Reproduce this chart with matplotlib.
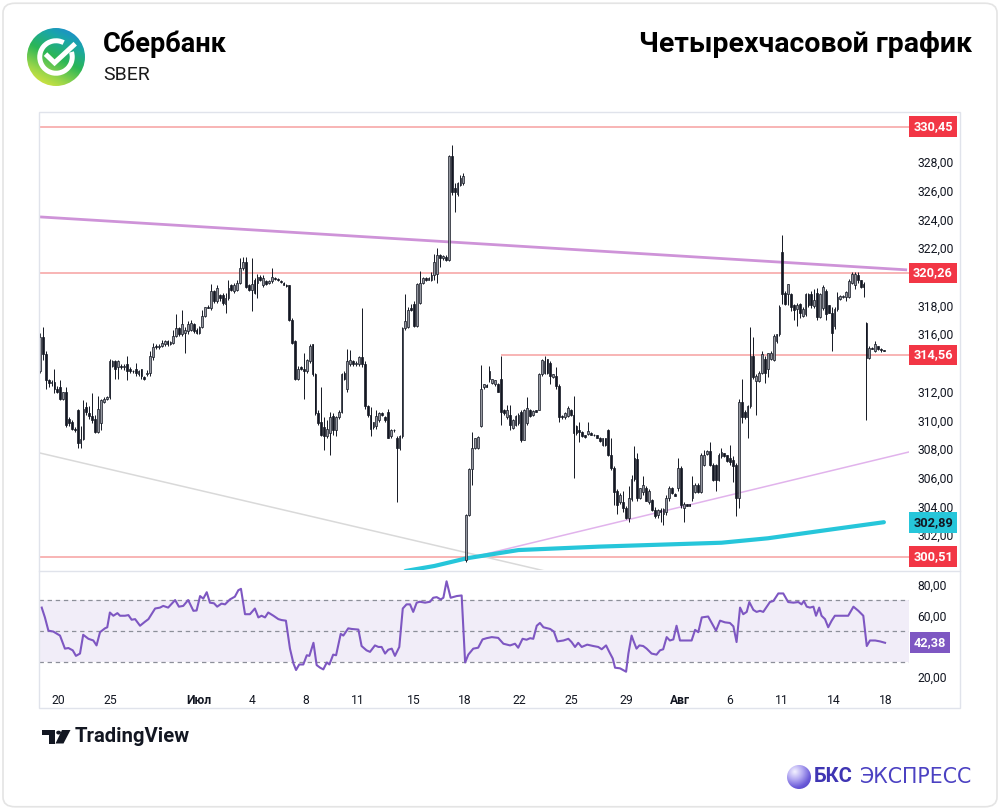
import numpy as np
import matplotlib.pyplot as plt
from matplotlib.patches import Rectangle, Circle, Polygon, Arc, FancyBboxPatch
from matplotlib.colors import LinearSegmentedColormap
from matplotlib.ticker import FuncFormatter
from matplotlib.transforms import blended_transform_factory

plt.rcParams['font.family'] = ['Roboto', 'DejaVu Sans']

# 4h candles, (open, high, low, close)
bars_jun = [
    (313.4, 316.1, 313.3, 315.8), (315.8, 316.5, 314.2, 314.6), (314.6, 314.8, 312.2, 312.8),
    (312.8, 312.9, 312.3, 312.6), (312.6, 312.8, 312.4, 312.7), (312.7, 313.6, 311.9, 312.2),
    (312.2, 312.4, 311.9, 312.0), (312.3, 312.8, 311.4, 311.5), (311.5, 312.0, 311.4, 312.0),
    (312.0, 312.3, 309.5, 309.7), (310.1, 310.2, 309.6, 309.8), (309.9, 310.0, 309.3, 309.4),
    (309.4, 309.5, 309.2, 309.3), (310.7, 310.8, 308.1, 308.4), (308.4, 309.6, 308.1, 308.7),
    (308.7, 311.4, 308.6, 310.8), (310.9, 311.3, 310.4, 310.6), (310.5, 311.0, 310.1, 310.3),
    (310.3, 311.9, 309.8, 310.0), (310.1, 310.4, 309.1, 309.2), (309.2, 311.7, 309.1, 310.8),
    (309.8, 311.5, 309.3, 311.4), (311.3, 311.6, 311.2, 311.5), (311.5, 311.7, 311.4, 311.6),
    (311.6, 314.3, 311.5, 314.1), (313.8, 314.2, 313.7, 314.1), (314.1, 314.2, 312.9, 313.6),
    (313.7, 314.2, 312.9, 314.1), (313.8, 313.9, 313.6, 313.7), (313.7, 313.9, 313.5, 313.8),
    (313.9, 314.5, 312.8, 313.4), (313.6, 313.7, 313.3, 313.4), (313.4, 313.5, 313.3, 313.45),
    (313.6, 314.0, 313.1, 313.3), (313.2, 313.5, 313.1, 313.4), (313.6, 313.6, 312.9, 313.1),
    (313.0, 313.1, 312.8, 312.9), (313.2, 313.5, 313.1, 313.3), (313.3, 314.8, 313.1, 314.5),
    (314.4, 315.4, 314.2, 315.1), (315.2, 315.3, 315.0, 315.1), (315.1, 315.3, 315.0, 315.2),
    (315.2, 315.6, 315.1, 315.4), (315.3, 315.6, 315.2, 315.5), (315.5, 315.6, 315.2, 315.3),
    (315.3, 315.5, 315.25, 315.45), (315.4, 316.3, 315.3, 315.9), (315.9, 317.4, 315.8, 316.4),
    (316.4, 316.5, 315.9, 316.0), (316.0, 317.7, 315.9, 316.7),
]
bars_jul_a = [
    (316.1, 316.5, 314.7, 316.3), (316.2, 316.9, 316.0, 316.7), (316.3, 317.0, 316.2, 316.8),
    (316.7, 316.8, 316.1, 316.2), (316.3, 316.4, 316.0, 316.1), (316.1, 316.6, 316.0, 316.5),
    (316.5, 317.7, 316.4, 317.3), (317.3, 317.9, 317.2, 317.9), (317.9, 318.0, 317.8, 317.8),
    (317.8, 319.5, 317.7, 319.0), (319.0, 319.1, 318.2, 318.3), (318.3, 319.4, 318.2, 319.2),
    (318.7, 318.8, 318.3, 318.5), (318.7, 318.9, 318.0, 318.2), (318.1, 318.9, 317.5, 318.5),
    (318.5, 319.8, 318.4, 319.2), (319.4, 319.5, 319.0, 319.1), (319.0, 319.6, 318.9, 319.4),
    (319.1, 319.8, 319.0, 319.6), (319.6, 321.3, 319.5, 320.6), (320.6, 321.4, 320.5, 321.0),
    (321.0, 321.4, 319.2, 319.3), (319.4, 319.5, 319.0, 319.1), (319.1, 321.3, 317.6, 319.5),
    (319.8, 319.9, 318.8, 318.9), (319.6, 320.2, 318.5, 320.0), (320.0, 320.1, 319.7, 319.8),
    (319.4, 320.1, 319.3, 319.9), (319.7, 319.8, 319.4, 319.5), (319.6, 319.8, 319.5, 319.7),
    (319.7, 320.6, 319.6, 320.0), (319.9, 320.0, 319.8, 319.85), (319.85, 319.9, 319.7, 319.75),
    (319.7, 319.75, 319.6, 319.65), (319.6, 319.65, 319.4, 319.45), (319.45, 319.5, 319.3, 319.35),
    (319.4, 319.45, 316.9, 317.0), (317.0, 317.1, 315.3, 315.4), (315.5, 315.6, 312.8, 312.9),
    (312.9, 313.8, 312.8, 313.6), (313.7, 313.8, 313.5, 313.6), (313.6, 314.7, 311.5, 313.4),
    (313.4, 314.3, 313.3, 314.2), (314.1, 315.3, 314.0, 315.2), (315.3, 315.35, 313.1, 313.2),
    (313.2, 313.3, 310.4, 310.5), (310.5, 310.7, 309.7, 309.8), (309.9, 312.3, 308.9, 309.0),
    (309.5, 310.2, 307.9, 308.9), (308.9, 310.0, 308.8, 309.4),
]
bars_jul_b = [
    (309.1, 310.6, 307.6, 310.2), (310.3, 310.5, 309.0, 309.3), (309.3, 310.3, 308.9, 310.2),
    (310.2, 310.7, 310.1, 310.6), (310.6, 313.3, 310.5, 313.2), (313.3, 313.4, 312.8, 312.9),
    (312.2, 315.0, 312.0, 314.1), (313.9, 314.9, 313.8, 314.2), (314.1, 314.2, 313.8, 313.9),
    (313.9, 314.1, 313.8, 314.0), (313.9, 314.5, 313.8, 314.4), (314.4, 317.8, 313.7, 313.9),
    (313.9, 314.1, 310.8, 311.0), (311.0, 311.1, 310.2, 310.4), (310.4, 310.9, 308.9, 309.4),
    (309.5, 309.9, 309.4, 309.9), (309.6, 310.7, 309.4, 310.3), (310.0, 310.6, 309.9, 310.5),
    (310.5, 310.6, 310.3, 310.4), (310.2, 310.3, 309.9, 310.0), (310.6, 310.8, 308.8, 308.8),
    (308.9, 309.4, 308.8, 309.3), (309.3, 309.4, 309.2, 309.35), (308.8, 308.9, 304.3, 308.1),
    (308.1, 309.0, 307.9, 308.9), (308.9, 316.5, 308.8, 316.4), (316.4, 318.8, 316.3, 316.9),
    (316.5, 317.9, 316.4, 317.7), (317.8, 318.1, 317.6, 317.7), (318.1, 318.3, 316.5, 316.6),
    (316.6, 319.6, 316.5, 319.5), (318.2, 320.4, 318.1, 319.6), (319.6, 320.0, 319.5, 319.9),
    (319.9, 320.0, 319.7, 319.8), (319.8, 319.95, 319.75, 319.9), (319.8, 320.3, 319.7, 320.1),
    (320.1, 321.6, 319.8, 321.0), (320.2, 322.0, 319.6, 321.5), (321.5, 321.6, 320.7, 321.3),
    (321.3, 321.5, 321.2, 321.45), (321.4, 321.5, 321.1, 321.2), (321.2, 328.5, 321.1, 328.4),
    (328.4, 329.2, 325.7, 325.9), (326.2, 326.5, 324.5, 325.9), (325.8, 326.6, 325.6, 326.5),
    (326.4, 327.1, 326.3, 326.9), (326.5, 327.2, 326.4, 327.0),
]
bars_jul_aug = [
    (300.3, 303.5, 300.1, 303.4), (303.4, 306.7, 303.3, 306.6), (306.6, 309.2, 305.5, 308.1),
    (308.1, 308.8, 308.0, 308.75), (308.1, 308.9, 308.0, 308.85), (309.6, 313.85, 309.5, 312.15),
    (312.3, 312.5, 312.2, 312.5), (312.45, 312.5, 312.3, 312.35), (313.4, 313.8, 312.7, 312.85),
    (312.6, 312.9, 312.5, 312.85), (312.5, 312.8, 312.4, 312.8), (312.55, 312.6, 312.0, 312.0),
    (312.9, 314.5, 309.7, 310.6), (310.75, 310.8, 310.4, 310.5), (310.2, 311.1, 310.1, 310.75),
    (310.4, 311.1, 309.35, 309.7), (309.45, 310.1, 309.4, 310.05), (309.7, 310.4, 309.6, 310.3),
    (309.8, 310.5, 309.7, 310.35), (310.6, 310.75, 308.5, 308.65), (308.65, 310.8, 308.6, 310.75),
    (309.8, 311.6, 309.7, 310.85), (310.75, 310.8, 310.2, 310.3), (310.35, 310.7, 310.3, 310.65),
    (310.7, 310.75, 310.55, 310.6), (310.75, 313.3, 310.7, 313.2), (313.2, 314.3, 313.1, 314.2),
    (313.3, 314.5, 313.2, 314.1), (314.25, 314.3, 313.2, 313.3), (314.0, 314.1, 312.5, 313.1),
    (313.0, 313.25, 312.95, 313.2), (313.1, 313.7, 312.2, 312.4), (312.4, 312.5, 309.9, 310.2),
    (310.3, 310.35, 310.1, 310.2), (310.2, 310.6, 310.1, 310.5), (310.3, 311.0, 310.2, 310.85),
    (310.75, 310.8, 310.3, 310.35), (310.35, 311.7, 305.95, 309.1), (309.6, 309.7, 309.0, 309.1),
    (309.35, 309.9, 308.5, 309.2), (309.2, 309.25, 308.85, 308.9), (308.95, 309.0, 308.8, 308.85),
    (309.05, 309.9, 309.0, 309.25), (309.1, 309.15, 308.95, 309.0), (309.0, 309.05, 308.9, 308.95),
    (308.95, 309.0, 308.75, 308.8), (308.8, 308.85, 308.5, 308.55), (308.25, 308.8, 308.2, 308.75),
    (308.75, 308.8, 308.2, 308.25), (309.35, 309.4, 307.5, 307.6), (307.6, 308.75, 306.55, 306.65),
    (306.65, 306.8, 304.1, 305.0), (305.1, 305.2, 303.5, 304.1), (304.3, 304.9, 304.2, 304.8),
]
bars_aug_a = [
    (304.3, 305.1, 303.6, 303.9), (303.9, 304.0, 303.1, 303.2), (303.2, 305.4, 302.9, 304.6),
    (304.5, 306.2, 304.4, 305.9), (307.4, 308.2, 305.8, 305.9), (307.3, 307.7, 304.4, 304.6),
    (304.6, 305.3, 304.5, 305.3), (305.0, 306.1, 304.8, 305.5), (305.3, 305.4, 304.4, 304.4),
    (304.3, 305.2, 304.2, 305.1), (304.45, 304.5, 303.7, 303.75), (303.75, 303.98, 303.2, 303.3),
    (303.4, 303.8, 303.2, 303.75), (303.75, 303.86, 302.9, 303.6), (303.5, 303.86, 302.7, 303.8),
    (303.6, 304.8, 303.4, 304.6), (304.6, 305.4, 304.4, 305.3), (305.3, 305.35, 304.85, 304.9),
    (304.85, 304.9, 304.7, 304.75), (305.3, 307.4, 305.1, 306.7), (306.7, 306.8, 303.9, 304.1),
    (303.9, 304.3, 302.9, 304.2), (304.15, 304.2, 304.0, 304.05), (304.15, 304.2, 304.0, 304.05),
    (304.6, 306.1, 304.4, 305.5), (305.0, 305.6, 304.9, 305.5), (305.5, 305.6, 304.9, 305.0),
    (305.0, 307.7, 304.9, 307.6), (306.9, 307.95, 306.8, 307.6), (307.65, 307.9, 307.6, 307.88),
    (307.88, 308.5, 306.8, 306.9), (306.9, 307.0, 305.8, 305.85), (306.9, 306.95, 305.1, 305.85),
    (305.85, 307.7, 305.8, 307.6), (307.5, 308.1, 307.4, 307.8), (307.7, 307.75, 307.45, 307.5),
    (307.55, 307.6, 307.1, 307.15), (307.35, 308.3, 306.9, 307.1), (307.25, 307.5, 305.7, 306.8),
    (306.9, 307.0, 303.3, 304.6), (304.6, 311.45, 303.9, 311.3), (311.3, 312.85, 309.8, 310.2),
    (310.6, 310.7, 310.1, 310.2), (310.2, 311.1, 308.8, 311.0), (311.0, 316.5, 310.85, 314.5),
    (314.5, 315.8, 312.9, 313.0), (312.75, 313.2, 310.4, 313.1), (312.75, 313.4, 312.7, 313.3),
    (313.3, 314.8, 313.2, 314.6),
]
bars_aug_b = [
    (314.3, 314.5, 312.6, 313.3), (313.55, 314.7, 313.0, 314.7), (314.25, 314.8, 314.2, 314.7),
    (314.2, 316.0, 314.1, 315.9), (315.5, 316.0, 315.4, 316.0), (316.0, 318.0, 315.9, 317.9),
    (321.7, 322.9, 318.1, 318.8), (318.9, 319.0, 318.0, 318.1), (318.8, 319.5, 318.0, 319.5),
    (318.8, 318.9, 317.6, 317.9), (318.0, 318.1, 317.0, 317.65), (317.75, 318.2, 316.6, 318.0),
    (318.1, 318.2, 317.1, 317.5), (317.3, 317.9, 317.2, 317.75), (317.4, 318.9, 317.3, 318.8),
    (318.8, 318.9, 317.9, 318.0), (318.8, 319.0, 317.85, 318.0), (317.99, 319.15, 317.85, 318.35),
    (318.9, 319.2, 317.0, 317.2), (317.2, 318.9, 317.1, 318.8), (317.8, 319.4, 317.7, 319.3),
    (319.0, 319.15, 317.0, 317.4), (318.0, 318.05, 317.45, 317.5), (317.5, 317.9, 314.8, 316.1),
    (316.6, 317.87, 316.35, 317.75), (317.75, 318.92, 317.6, 318.57), (318.45, 318.75, 318.4, 318.69),
    (318.57, 318.75, 318.5, 318.69), (318.57, 319.04, 318.34, 318.92), (318.6, 319.85, 318.5, 319.7),
    (319.6, 320.32, 319.5, 320.2), (319.4, 320.32, 319.15, 320.2), (320.09, 320.32, 319.6, 319.74),
    (319.74, 319.8, 319.2, 319.27), (319.5, 319.62, 318.6, 319.27),
]
bars_aug_c = [
    (316.8, 316.82, 310.05, 314.37), (314.37, 315.19, 314.25, 315.07), (315.05, 315.1, 314.95, 315.0),
    (314.83, 315.53, 314.77, 315.3), (315.19, 315.2, 314.9, 314.95), (314.97, 315.07, 314.75, 314.9),
    (314.9, 314.92, 314.8, 314.86),
]

# horizontal levels and the bar each one starts from
levels = [330.45, 320.26, 314.56, 300.51]
level_from = [0, 0, 159, 0]

# trend lines: (bar, price) end points
trend_top = ([0, 299], [324.17, 320.48])
trend_up = ([147, 300], [300.36, 307.81])
trend_down = ([0, 175], [307.72, 299.46])

# moving average (cyan)
ma_bar = [126, 136, 147, 165, 193, 235, 251, 273, 291]
ma_val = [299.5, 299.85, 300.38, 300.96, 301.2, 301.47, 301.78, 302.4, 302.9]
ma_last = 302.89

# RSI
rsi_bar = [0.6, 1.7, 2.9, 4.6, 6.9, 8.6, 9.8, 11.3, 12.4, 13.8,
           14.9, 16.7, 18.4, 19.5, 20.7, 22.4, 23.2, 24.1, 25.3, 26.7,
           27.6, 29.3, 30.5, 31.6, 32.8, 34.5, 36.2, 37.4, 39.7, 41.4,
           42.5, 44.2, 46.6, 47.9, 49.4, 51.1, 52.9, 54.0, 55.2, 56.3,
           57.5, 58.6, 60.0, 61.1, 62.6, 63.8, 65.5, 67.2, 68.4, 69.3,
           70.7, 72.4, 74.1, 75.3, 76.4, 77.6, 78.7, 80.5, 82.2, 83.3,
           84.8, 86.2, 87.4, 88.3, 89.4, 90.8, 92.0, 92.9, 94.3, 95.4,
           96.6, 97.7, 98.9, 99.8, 101.1, 102.1, 103.7, 104.6, 106.3, 107.5,
           109.8, 110.9, 112.6, 113.8, 115.5, 116.7, 117.8, 119.0, 120.1, 121.3,
           122.4, 123.9, 125.1, 126.4, 127.6, 128.7, 129.9, 131.0, 132.8, 134.5,
           135.6, 136.8, 138.2, 139.1, 140.2, 141.6, 143.7, 145.4, 146.6, 147.7,
           149.4, 151.1, 152.6, 154.0, 155.8, 158.0, 159.8, 162.1, 163.8, 164.9,
           166.4, 167.8, 169.0, 170.1, 171.3, 172.4, 173.6, 175.9, 177.2, 178.4,
           180.5, 182.2, 183.3, 184.5, 185.6, 186.8, 188.7, 190.8, 192.5, 193.7,
           195.2, 196.3, 197.5, 198.3, 200.0, 202.1, 202.9, 204.0, 204.6, 205.7,
           206.7, 208.0, 209.2, 210.9, 212.6, 213.8, 214.9, 216.1, 217.2, 218.4,
           219.5, 220.7, 223.0, 224.7, 225.9, 227.0, 228.2, 230.4, 233.1, 234.5,
           236.2, 237.9, 239.1, 240.2, 241.4, 242.5, 243.7, 244.6, 246.0, 247.1,
           248.3, 249.4, 250.6, 251.7, 252.9, 254.6, 256.3, 258.0, 259.8, 261.5,
           262.6, 263.4, 264.4, 265.5, 266.7, 267.6, 268.7, 269.5, 270.7, 271.8,
           273.0, 274.1, 275.9, 277.6, 278.7, 280.5, 282.2, 283.9, 285.1, 286.2,
           288.0, 289.7, 291.4]
rsi_val = [65.3, 58.9, 50.3, 49.7, 47.1, 38.6, 39.0, 37.5, 33.9, 35.4,
           47.6, 45.0, 43.9, 40.7, 49.3, 51.8, 52.5, 62.1, 60.0, 61.7,
           60.0, 60.0, 60.4, 57.4, 57.8, 53.5, 56.1, 57.8, 64.7, 65.3,
           66.4, 65.3, 70.2, 65.9, 66.4, 70.2, 63.2, 63.4, 72.8, 71.1,
           75.3, 68.5, 68.1, 65.9, 67.9, 67.4, 70.6, 72.4, 76.6, 77.5,
           61.0, 61.0, 64.7, 58.9, 60.0, 58.9, 62.1, 60.0, 57.8, 57.2,
           56.8, 38.6, 29.0, 24.7, 28.3, 28.3, 34.3, 33.9, 42.4, 27.9,
           26.2, 25.1, 29.6, 28.3, 34.7, 34.3, 48.2, 47.1, 51.8, 51.4,
           51.0, 40.3, 37.5, 36.5, 40.7, 39.7, 39.7, 35.4, 37.9, 38.6,
           33.9, 39.7, 64.7, 67.4, 67.4, 62.5, 68.5, 69.1, 68.5, 69.1,
           71.7, 72.1, 70.6, 71.7, 82.4, 71.7, 72.8, 73.2, 29.6, 34.7,
           38.6, 39.2, 44.6, 45.4, 46.1, 45.6, 41.8, 40.7, 41.8, 39.2,
           45.0, 44.4, 45.4, 45.0, 53.5, 55.3, 52.5, 51.4, 49.7, 43.3,
           43.9, 45.0, 42.9, 39.7, 42.4, 39.7, 41.2, 40.3, 39.7, 38.2,
           40.7, 36.5, 32.2, 26.2, 25.8, 23.6, 35.4, 47.1, 43.9, 38.6,
           40.7, 40.3, 38.6, 35.4, 34.7, 37.5, 38.2, 46.1, 43.9, 44.6,
           53.5, 43.9, 43.9, 43.9, 50.8, 49.3, 58.9, 59.5, 50.3, 56.8,
           55.7, 55.3, 53.1, 42.9, 65.3, 61.0, 62.5, 68.9, 63.8, 62.5,
           63.2, 62.5, 65.9, 68.9, 69.6, 74.5, 74.5, 68.9, 68.5, 68.9,
           67.4, 69.6, 65.9, 65.3, 65.9, 60.0, 65.3, 60.0, 57.8, 52.5,
           56.8, 60.0, 60.0, 60.0, 60.0, 65.9, 63.2, 60.0, 40.3, 43.9,
           43.9, 43.3, 42.4]
rsi_last = 42.38

# date axis
date_pos = [6.2, 24.1, 54.8, 73.1, 91.7, 109.7, 129.0, 146.6, 165.2, 183.1,
            202.1, 220.7, 237.9, 255.9, 273.8, 291.7]
date_lbl = ['20', '25', 'Июл', '4', '8', '11', '15', '18', '22', '25',
            '29', 'Авг', '6', '11', '14', '18']

W, H = 1000, 810
fig = plt.figure(figsize=(W / 100, H / 100), dpi=100)


def box(x0, y0, x1, y1):
    # pixel box (origin top-left) -> figure fraction rect
    return [x0 / W, 1 - y1 / H, (x1 - x0) / W, (y1 - y0) / H]


def pt(x, y):
    return (x / W, 1 - y / H)


# ---- price pane ----
ax = fig.add_axes(box(39, 113, 909, 570))
o, hi, lo, c = np.array(bars_jun + bars_jul_a + bars_jul_b + bars_jul_aug
                        + bars_aug_a + bars_aug_b + bars_aug_c).T
idx = np.arange(len(o))
up = c >= o
body_lo = np.minimum(o, c)
body_h = np.maximum(np.abs(c - o), 0.05)

ax.vlines(idx, lo, hi, color='#131722', lw=0.7, zorder=3)
ax.bar(idx[up], body_h[up], bottom=body_lo[up], width=0.62, color='#9598a1',
       edgecolor='#131722', lw=0.5, zorder=4)
ax.bar(idx[~up], body_h[~up], bottom=body_lo[~up], width=0.62, color='#131722',
       edgecolor='#131722', lw=0.5, zorder=4)

xmin, xmax = -0.34, 299.66
for lv, start in zip(levels, level_from):
    ax.hlines(lv, max(start, xmin), xmax, color='#f7a1a1', lw=1.1, zorder=2)

ax.plot(*trend_top, color='#ce93d8', lw=2, zorder=2, solid_capstyle='butt')
ax.plot(*trend_up, color='#e1b3ec', lw=1.1, zorder=2)
ax.plot(*trend_down, color='#d9d9d9', lw=1.1, zorder=2)
ax.plot(ma_bar, ma_val, color='#26c6da', lw=3, zorder=2.5, solid_capstyle='round')

ax.set_xlim(xmin, xmax)
ax.set_ylim(299.57, 331.41)
ax.set_xticks([])
ax.yaxis.tick_right()
ax.set_yticks([302, 304, 306, 308, 310, 312, 316, 318, 322, 324, 326, 328])
ax.yaxis.set_major_formatter(FuncFormatter(lambda v, p: f'{v:.2f}'.replace('.', ',')))
ax.tick_params(axis='y', length=0, pad=6, labelsize=8.7, labelcolor='#131722')
for s in ax.spines.values():
    s.set_visible(False)


def tag(axis, y, text, fc, tc, xc=1.0276):
    axis.text(xc, y, text, transform=blended_transform_factory(axis.transAxes, axis.transData),
              ha='center', va='center', fontsize=9.2, fontweight='bold', color=tc,
              bbox=dict(boxstyle='square,pad=0.3', fc=fc, ec='none'), clip_on=False, zorder=10)


for lv in levels:
    tag(ax, lv, f'{lv:.2f}'.replace('.', ','), '#f23645', 'white')
tag(ax, ma_last, f'{ma_last:.2f}'.replace('.', ','), '#26c6da', '#131722')

# ---- RSI pane ----
ax2 = fig.add_axes(box(39, 571, 909, 688))
ax2.axhspan(30, 70, color='#7e57c2', alpha=0.1, lw=0)
for lv in (70, 50, 30):
    ax2.axhline(lv, color='#8c8f99', lw=0.9, dashes=(3.5, 3))
ax2.plot(rsi_bar, rsi_val, color='#7e57c2', lw=1.5)
ax2.set_xlim(xmin, xmax)
ax2.set_ylim(13.0, 89.1)
ax2.yaxis.tick_right()
ax2.set_yticks([20, 60, 80])
ax2.yaxis.set_major_formatter(FuncFormatter(lambda v, p: f'{v:.2f}'.replace('.', ',')))
ax2.tick_params(axis='y', length=0, pad=6, labelsize=8.7, labelcolor='#131722')
ax2.set_xticks(date_pos)
ax2.set_xticklabels(date_lbl)
ax2.tick_params(axis='x', length=0, pad=4, labelsize=8.7, labelcolor='#131722')
for t in ax2.get_xticklabels():
    if not t.get_text().isdigit():
        t.set_fontweight('bold')
for s in ax2.spines.values():
    s.set_visible(False)
tag(ax2, rsi_last, f'{rsi_last:.2f}'.replace('.', ','), '#7e57c2', 'white', xc=1.0241)

# chart frame and pane separator
fig.add_artist(Rectangle(pt(39, 708), (960 - 39) / W, (708 - 112) / H, transform=fig.transFigure,
                         fill=False, ec='#e0e3eb', lw=1))
fig.add_artist(plt.Line2D([39 / W, 960 / W], [1 - 570.5 / H] * 2, color='#e0e3eb', lw=1))
fig.add_artist(FancyBboxPatch((0.003, 0.004), 0.994, 0.992, boxstyle='round,pad=0,rounding_size=0.012',
                              transform=fig.transFigure, fill=False, ec='#e4e4e4', lw=1.2))

# ---- header ----
lax = fig.add_axes(box(27, 28, 85, 86))
lax.set_xlim(-1, 1)
lax.set_ylim(-1, 1)
lax.axis('off')
gx, gy = np.meshgrid(np.linspace(-1, 1, 150), np.linspace(-1, 1, 150))
sber_cmap = LinearSegmentedColormap.from_list('sber', ['#f5ec3a', '#9ad64a', '#2bb656', '#1aa6a8', '#1f7fe2'])
grad = lax.imshow(0.45 * gx + 0.9 * gy, extent=(-1, 1, -1, 1), origin='lower', cmap=sber_cmap)
grad.set_clip_path(Circle((0, 0), 1, transform=lax.transData))
lax.add_patch(Arc((0, 0), 1.12, 1.12, theta1=62, theta2=378, color='white', lw=3.6))
lax.plot([-0.3, -0.05, 0.6], [0.04, -0.2, 0.4], color='white', lw=3.6, solid_joinstyle='miter')

fig.text(103 / W, 1 - 44 / H, 'Сбербанк', fontsize=19.5, fontweight='bold', color='#000000', va='center')
fig.text(103 / W, 1 - 75 / H, 'SBER', fontsize=14, color='#1a1a1a', va='center')
fig.text(972 / W, 1 - 44 / H, 'Четырехчасовой график', fontsize=20.5, fontweight='bold',
         color='#000000', va='center', ha='right')

# ---- TradingView mark ----
tv = '#131722'
fig.add_artist(Polygon([pt(41.5, 730), pt(55, 730), pt(55, 743.5), pt(48.5, 743.5), pt(48.5, 735), pt(41.5, 735)],
                       closed=True, transform=fig.transFigure, fc=tv, ec='none'))
fig.add_artist(Circle(pt(58.6, 732.6), 2.4 / W, transform=fig.transFigure, fc=tv, ec='none'))
fig.add_artist(Polygon([pt(62, 730), pt(70.5, 730), pt(63.5, 743.5), pt(55.5, 743.5)],
                       closed=True, transform=fig.transFigure, fc=tv, ec='none'))
fig.text(75 / W, 1 - 737 / H, 'TradingView', fontsize=14.6, fontweight='bold', color=tv, va='center')

# ---- BKS mark ----
bax = fig.add_axes(box(787, 765, 811, 789))
bax.set_xlim(-1, 1)
bax.set_ylim(-1, 1)
bax.axis('off')
bks_cmap = LinearSegmentedColormap.from_list('bks', ['#f3f1ff', '#b4aaf2', '#6a5ad8', '#4a3cc0'])
d = np.hypot(gx + 0.35, gy - 0.45)
sph = bax.imshow(d, extent=(-1, 1, -1, 1), origin='lower', cmap=bks_cmap)
sph.set_clip_path(Circle((0, 0), 1, transform=bax.transData))
fig.text(814 / W, 1 - 777 / H, 'БКС', fontsize=14.5, fontweight='bold', color='#3f35b3', va='center')
fig.text(860 / W, 1 - 777 / H, 'ЭКСПРЕСС', fontsize=14.8, color='#4b41c2', va='center',
         family=['DejaVu Sans'])

fig.savefig('out.png', dpi=100, facecolor='white')
